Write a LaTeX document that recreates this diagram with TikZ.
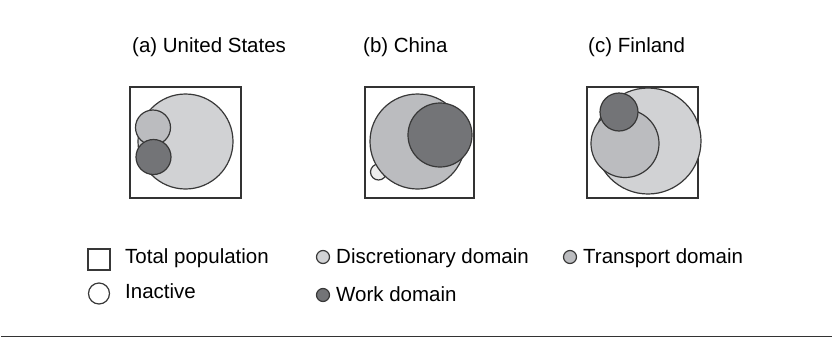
\documentclass[tikz,border=0pt]{standalone}
\usepackage{fontspec}
\setmainfont{Liberation Sans}
\begin{document}
\begin{tikzpicture}[x=1pt,y=-1pt,
  txt/.style={inner sep=0pt,anchor=base west,font=\fontsize{20.5}{24}\selectfont},
  frame/.style={draw=black!80,line width=1.3pt},
  set/.style={draw=black!78,line width=1.2pt},
  disc/.style={set,fill=discgray},
  trans/.style={set,fill=transgray},
  work/.style={set,fill=workgray},
  inact/.style={set,fill=white!93!black}]
\definecolor{discgray}{HTML}{D1D2D4}
\definecolor{transgray}{HTML}{BBBCBF}
\definecolor{workgray}{HTML}{737477}
\useasboundingbox (0,0) rectangle (832,338);

% panel titles
\node[txt] (ta) at (132,52) {(a) United States};
\node[txt] (tb) at (363,52) {(b) China};
\node[txt] (tc) at (588,52) {(c) Finland};

% (a) United States
\draw[frame] (130,87) rectangle (241,198);
\draw[disc]  (185.5,141.5) circle (47.5);
\draw[trans] (153,127.5) circle (17.5);
\draw[work]  (153.5,157) circle (17.5);

% (b) China
\draw[frame] (365,87) rectangle (474,198);
\draw[inact] (378.5,172) circle (8);
\draw[trans] (417.5,141.5) circle (47.5);
\draw[work]  (440,135) circle (32);

% (c) Finland
\draw[frame] (587,87) rectangle (698,198);
\draw[disc]  (648,141) circle (53);
\draw[trans] (625,143.5) circle (34);
\draw[work]  (619,112) circle (19);

% legend
\draw[set] (88,249) rectangle (110,270);
\node[txt] (lt) at (125,263) {Total population};
\draw[set] (99,293.5) circle (10.5);
\node[txt] (li) at (125,298) {Inactive};

\draw[disc] (323,257) circle (6.5);
\node[txt] (ld) at (336,263) {Discretionary domain};
\draw[work] (323,295) circle (6.5);
\node[txt] (lw) at (336,301) {Work domain};

\draw[trans] (570,257) circle (6.5);
\node[txt] (lr) at (583,263) {Transport domain};

% bottom rule
\draw[black!80,line width=1.5pt] (1,336.5) -- (832,336.5);
\end{tikzpicture}
\end{document}
